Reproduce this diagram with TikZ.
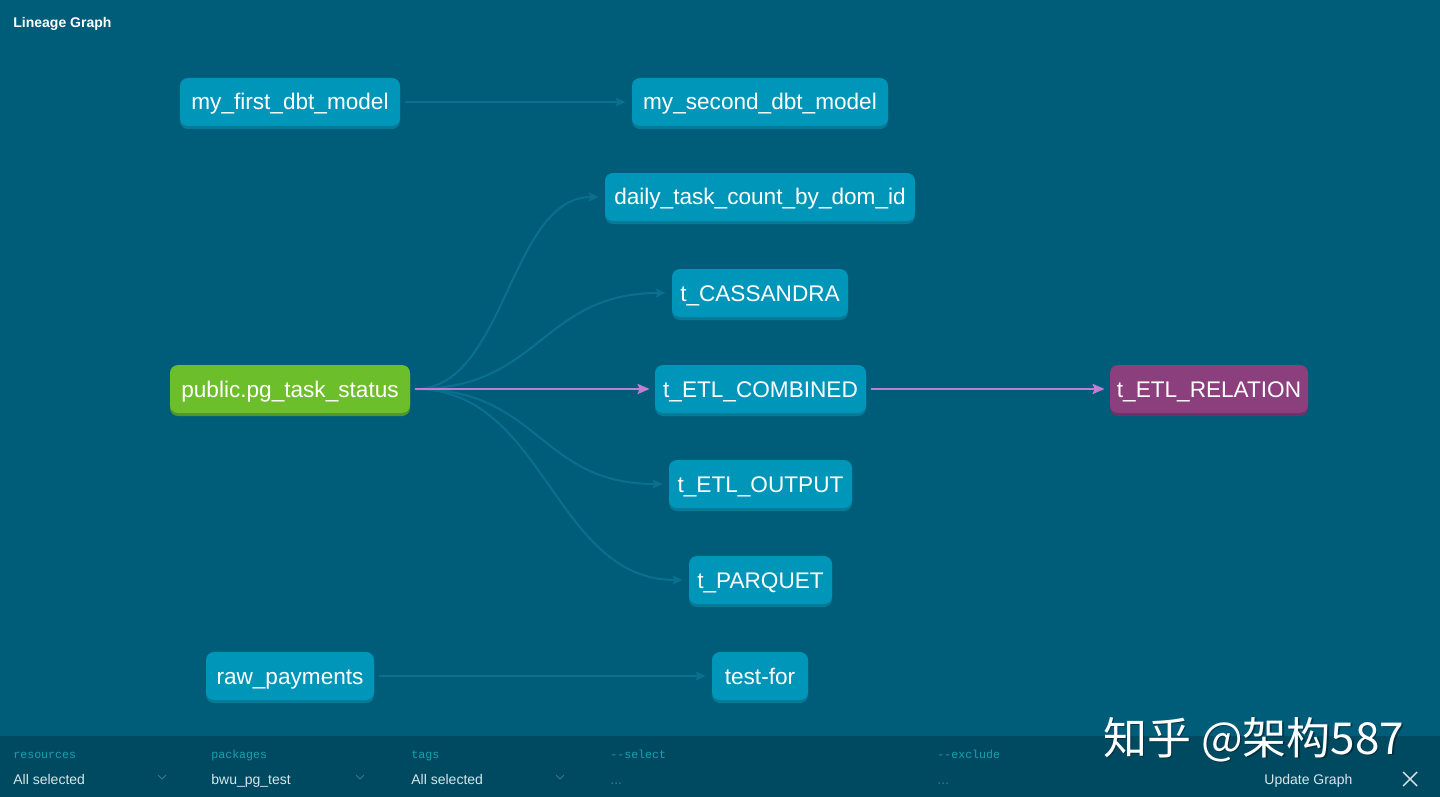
\documentclass[tikz,border=0pt]{standalone}
\usepackage{fontspec}
\setmainfont{Liberation Sans}
\setmonofont{Liberation Mono}
\newfontfamily\cjk{Noto Sans CJK SC}
\usetikzlibrary{arrows.meta,shadows}
\definecolor{bgmain}{RGB}{0,93,122}
\definecolor{bgbar}{RGB}{0,74,97}
\definecolor{nodeblue}{RGB}{0,150,185}
\definecolor{nodeblueS}{RGB}{8,122,150}
\definecolor{nodegreen}{RGB}{108,190,42}
\definecolor{nodegreenS}{RGB}{80,150,40}
\definecolor{nodepurple}{RGB}{140,63,125}
\definecolor{nodepurpleS}{RGB}{110,50,105}
\definecolor{edgefaint}{RGB}{10,112,142}
\definecolor{edgepink}{RGB}{198,124,210}
\definecolor{barlabel}{RGB}{26,160,178}
\definecolor{barvalue}{RGB}{215,230,235}
\definecolor{barmuted}{RGB}{45,125,150}
\begin{document}
\begin{tikzpicture}[x=0.5pt,y=-0.5pt,
  dbt/.style={rounded corners=4pt, minimum height=24pt, inner xsep=0pt, inner ysep=0pt,
    text height=8pt, text depth=0pt,
    text=white, font=\fontsize{11.3}{13}\selectfont},
  model/.style={dbt, fill=nodeblue, general shadow={fill=nodeblueS, shadow yshift=-1.5pt}},
  source/.style={dbt, fill=nodegreen, general shadow={fill=nodegreenS, shadow yshift=-1.5pt}},
  chosen/.style={dbt, fill=nodepurple, general shadow={fill=nodepurpleS, shadow yshift=-1.5pt}},
  faint/.style={draw=edgefaint, line width=1pt, shorten <=2.5pt, shorten >=3pt,
    -{Stealth[length=5pt,width=4.5pt,inset=1pt]}},
  hl/.style={draw=edgepink, line width=1.2pt, shorten <=2.5pt, shorten >=2.5pt,
    -{Stealth[length=6pt,width=5pt,inset=1pt]}},
  barlab/.style={anchor=base west, inner sep=0pt, font=\ttfamily\fontsize{5.8}{7}\selectfont, text=barlabel},
  barval/.style={anchor=base west, inner sep=0pt, font=\fontsize{7}{8}\selectfont, text=barvalue},
  bardots/.style={anchor=base west, inner sep=0pt, font=\fontsize{7}{8}\selectfont, text=barmuted},
  chev/.style={draw=barmuted, line width=0.5pt}
]
\useasboundingbox (0,0) rectangle (1440,797);
\fill[bgmain] (0,0) rectangle (1440,797);
\fill[bgbar] (0,736) rectangle (1440,797);

\node[anchor=base west, inner sep=0pt, text=white, font=\bfseries\fontsize{7}{8}\selectfont] (title) at (13,28) {Lineage Graph};

% nodes
\node[model, minimum width=110pt] (first) at (290,102) {my\_first\_dbt\_model};
\node[model, minimum width=128pt] (second) at (760,102) {my\_second\_dbt\_model};
\node[model, minimum width=155pt] (daily) at (760,197) {daily\_task\_count\_by\_dom\_id};
\node[model, minimum width=88pt] (cass) at (760,293) {t\_CASSANDRA};
\node[source, minimum width=120pt] (pg) at (290,389) {public.pg\_task\_status};
\node[model, minimum width=105.5pt] (comb) at (760.5,389) {t\_ETL\_COMBINED};
\node[chosen, minimum width=99pt] (rel) at (1209,389) {t\_ETL\_RELATION};
\node[model, minimum width=91.5pt] (out) at (760.5,484) {t\_ETL\_OUTPUT};
\node[model, minimum width=71.5pt] (parq) at (760.5,580) {t\_PARQUET};
\node[model, minimum width=84pt] (raw) at (290,676) {raw\_payments};
\node[model, minimum width=48pt] (test) at (760,676) {test-for};

% edges
\draw[faint] (first.east) -- (second.west);
\draw[faint] (raw.east) -- (test.west);
\draw[faint] (pg.east) .. controls +(95,0) and +(-95,0) .. (daily.west);
\draw[faint] (pg.east) .. controls +(130,0) and +(-130,0) .. (cass.west);
\draw[faint] (pg.east) .. controls +(130,0) and +(-130,0) .. (out.west);
\draw[faint] (pg.east) .. controls +(135,0) and +(-135,0) .. (parq.west);
\draw[hl] (pg.east) -- (comb.west);
\draw[hl] (comb.east) -- (rel.west);

% bottom bar
\node[barlab] (lres) at (13,758) {resources};
\node[barval] (vres) at (13,784) {All selected};
\node[barlab] (lpkg) at (211,758) {packages};
\node[barval] (vpkg) at (211,784) {bwu\_pg\_test};
\node[barlab] (ltag) at (411,758) {tags};
\node[barval] (vtag) at (411,784) {All selected};
\node[barlab] (lsel) at (610,758) {-{}-select};
\node[bardots] (vsel) at (610,784) {...};
\node[barlab] (lexc) at (937,758) {-{}-exclude};
\node[bardots] (vexc) at (937,784) {...};
\node[barval] (upd) at (1264,784) {Update Graph};
\draw[chev] (158,775) -- (162,779) -- (166,775);
\draw[chev] (356,775) -- (360,779) -- (364,775);
\draw[chev] (556,775) -- (560,779) -- (564,775);
\draw[draw=barvalue, line width=0.7pt] (1403,772) -- (1417,786) (1417,772) -- (1403,786);

% watermark
\node[anchor=base west, inner sep=0pt, text=black, opacity=0.35, font=\cjk\fontsize{22}{24}\selectfont] (wms) at (1104.5,755.5) {知乎 @架构587};
\node[anchor=base west, inner sep=0pt, text=white, font=\cjk\fontsize{22}{24}\selectfont] (wm) at (1103,754) {知乎 @架构587};
\end{tikzpicture}
\end{document}
